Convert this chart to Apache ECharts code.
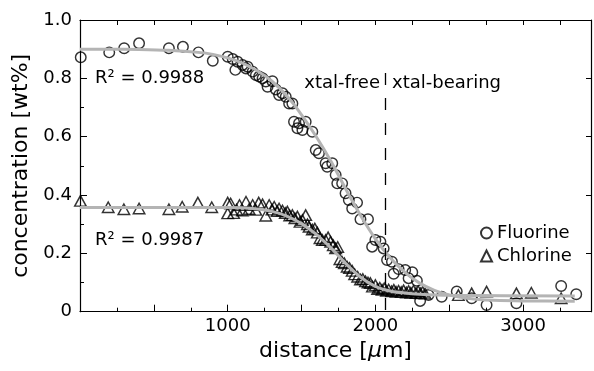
<!DOCTYPE html>
<html><head><meta charset="utf-8">
<script src="https://cdn.jsdelivr.net/npm/echarts@6/dist/echarts.min.js"></script>
<style>html,body{margin:0;padding:0;background:#fff}#c{width:594px;height:371px}</style>
</head><body><div id="c"></div>
<script>
// ---- data ----
const xMax = 3460;
const boundaryX = 2067;           // xtal-free / xtal-bearing boundary
const boundaryTop = 0.818;
const fluorinePoints = [
  [5,0.872],[198,0.889],[299,0.903],[400,0.920],[602,0.903],[697,0.908],[802,0.889],[899,0.860],[1000,0.874],
  [1034,0.866],[1052,0.829],[1067,0.857],[1101,0.846],[1124,0.834],[1135,0.840],[1169,0.823],[1191,0.811],[1213,0.806],[1236,0.800],
  [1258,0.789],[1270,0.771],[1303,0.790],[1326,0.762],[1348,0.743],[1371,0.749],[1393,0.737],[1416,0.714],[1438,0.714],[1449,0.651],
  [1472,0.629],[1483,0.646],[1506,0.623],[1528,0.651],[1573,0.617],[1596,0.554],[1618,0.543],[1663,0.509],[1674,0.497],[1708,0.509],
  [1731,0.469],[1742,0.440],[1775,0.440],[1798,0.406],[1820,0.383],[1843,0.354],[1876,0.374],[1899,0.317],[1950,0.317],[1978,0.223],
  [2000,0.246],[2034,0.240],[2056,0.217],[2079,0.177],[2112,0.171],[2124,0.130],[2157,0.146],[2202,0.143],[2225,0.115],[2250,0.135],
  [2281,0.106],[2303,0.037],[2360,0.057],[2449,0.051],[2551,0.069],[2652,0.046],[2753,0.023],[2955,0.029],[3258,0.088],[3360,0.060]
];
const chlorinePoints = [
  [3,0.380],[191,0.358],[297,0.351],[400,0.354],[602,0.351],[692,0.360],[798,0.374],[892,0.358],[1000,0.374],[1000,0.337],
  [1020,0.371],[1040,0.338],[1060,0.350],[1080,0.366],[1100,0.347],[1124,0.377],[1145,0.352],[1169,0.366],[1190,0.349],[1210,0.374],
  [1236,0.368],[1258,0.329],[1281,0.366],[1300,0.350],[1315,0.360],[1335,0.345],[1348,0.354],[1371,0.347],[1390,0.338],[1404,0.343],
  [1420,0.330],[1438,0.331],[1455,0.320],[1472,0.326],[1490,0.308],[1506,0.314],[1528,0.331],[1540,0.300],[1551,0.291],[1573,0.282],
  [1590,0.285],[1607,0.271],[1625,0.252],[1641,0.246],[1663,0.246],[1680,0.255],[1697,0.240],[1715,0.228],[1731,0.217],[1745,0.222],
  [1760,0.180],[1775,0.170],[1790,0.166],[1809,0.154],[1825,0.150],[1843,0.140],[1860,0.128],[1880,0.120],[1899,0.110],[1915,0.112],
  [1933,0.104],[1950,0.100],[1966,0.098],[1980,0.086],[2000,0.091],[2015,0.078],[2030,0.082],[2045,0.075],[2060,0.080],[2075,0.072],
  [2090,0.076],[2110,0.070],[2125,0.075],[2140,0.068],[2157,0.072],[2175,0.067],[2191,0.073],[2210,0.066],[2225,0.071],[2240,0.065],
  [2258,0.072],[2275,0.064],[2290,0.070],[2305,0.063],[2320,0.068],[2337,0.062],
  [2562,0.057],[2652,0.063],[2753,0.069],[2955,0.063],[3056,0.065],[3258,0.046]
];
const fluorineFit = [
  [0,0.900],[200,0.900],[400,0.899],[600,0.896],[800,0.889],[900,0.882],[1000,0.870],[1100,0.852],[1200,0.826],
  [1300,0.790],[1400,0.740],[1500,0.675],[1600,0.600],[1700,0.515],[1800,0.420],[1900,0.330],[2000,0.250],
  [2100,0.185],[2200,0.135],[2300,0.098],[2400,0.073],[2500,0.057],[2600,0.048],[2700,0.042],[2800,0.039],
  [3000,0.037],[3350,0.036]
];
const chlorineFit = [
  [0,0.357],[1000,0.357],[1100,0.356],[1200,0.352],[1300,0.344],[1400,0.328],[1500,0.302],[1600,0.265],
  [1700,0.218],[1800,0.165],[1900,0.118],[2000,0.087],[2100,0.071],[2200,0.064],[2300,0.060],[2500,0.056],[3350,0.054]
];
const seriesNames = ['Fluorine','Chlorine'];
const r2Labels = ['R\u00b2 = 0.9988','R\u00b2 = 0.9987'];
const zoneLabels = ['xtal-free','xtal-bearing'];

// ---- chart ----
const FONT = '"DejaVu Sans", sans-serif';
const BLACK = '#000';
const GREY = '#b4b4b4';
const chart = echarts.init(document.getElementById('c'), null, {renderer:'canvas'});
const markerStyle = {color:'rgba(0,0,0,0)', borderColor:BLACK, borderWidth:1.45};
const option = {
  animation:false,
  backgroundColor:'#fff',
  grid:{left:80, top:20, right:1, bottom:59.3, containLabel:false},
  xAxis:[{
    type:'value', min:0, max:xMax, interval:500, position:'bottom',
    axisLine:{show:true, onZero:false, lineStyle:{color:BLACK, width:1.2}},
    axisTick:{show:true, inside:true, length:7, lineStyle:{color:BLACK}},
    minorTick:{show:true, splitNumber:2, length:4, lineStyle:{color:BLACK}},
    axisLabel:{margin:6, fontSize:18, fontFamily:FONT, color:BLACK,
      formatter:v => (v>0 && v%1000===0) ? String(v) : ''},
    splitLine:{show:false}, minorSplitLine:{show:false},
    name:'distance [{i|\u03bc}m]', nameLocation:'middle', nameGap:26,
    nameTextStyle:{fontSize:22, fontFamily:FONT, color:BLACK,
      rich:{i:{fontSize:22, fontFamily:FONT, fontStyle:'italic', color:BLACK}}}
  },{
    type:'value', min:0, max:xMax, interval:250, position:'top',
    axisLine:{show:true, onZero:false, lineStyle:{color:BLACK, width:1.2}},
    axisTick:{show:true, inside:true, length:5, lineStyle:{color:BLACK}},
    axisLabel:{show:false}, splitLine:{show:false}
  }],
  yAxis:[{
    type:'value', min:0, max:1, interval:0.2, position:'left',
    axisLine:{show:true, onZero:false, lineStyle:{color:BLACK, width:1.2}},
    axisTick:{show:true, inside:true, length:7, lineStyle:{color:BLACK}},
    minorTick:{show:true, splitNumber:2, length:4, lineStyle:{color:BLACK}},
    axisLabel:{margin:8, fontSize:18, fontFamily:FONT, color:BLACK,
      formatter:v => v===0 ? '0' : v.toFixed(1)},
    splitLine:{show:false}, minorSplitLine:{show:false},
    name:'concentration [wt%]', nameLocation:'middle', nameGap:42,
    nameTextStyle:{fontSize:22, fontFamily:FONT, color:BLACK}
  },{
    type:'value', min:0, max:1, interval:0.2, position:'right',
    axisLine:{show:true, onZero:false, lineStyle:{color:BLACK, width:1.2}},
    axisTick:{show:true, inside:true, length:5, lineStyle:{color:BLACK}},
    axisLabel:{show:false}, splitLine:{show:false}
  }],
  legend:{
    orient:'vertical', left:475, top:218, itemWidth:11, itemHeight:11, itemGap:3,
    data:[{name:seriesNames[0], icon:'circle'},{name:seriesNames[1], icon:'triangle'}],
    textStyle:{fontSize:18, fontFamily:FONT, color:BLACK, lineHeight:20, padding:[0,0,0,0]}
  },
  series:[
    {name:seriesNames[0], type:'scatter', data:fluorinePoints, symbol:'circle', symbolSize:10.5,
      itemStyle:markerStyle, z:2, silent:true},
    {name:seriesNames[1], type:'scatter', data:chlorinePoints, symbol:'triangle', symbolSize:[11.5,10.5],
      itemStyle:markerStyle, z:2, silent:true},
    {name:'F fit', type:'line', data:fluorineFit, showSymbol:false, smooth:0.3,
      lineStyle:{color:GREY, width:3}, itemStyle:{color:GREY}, z:3, silent:true,
      markLine:{silent:true, symbol:['none','none'], label:{show:false},
        lineStyle:{color:BLACK, width:1.3, type:[12,13]},
        data:[[{coord:[boundaryX, boundaryTop]},{coord:[boundaryX, 0]}]]}},
    {name:'Cl fit', type:'line', data:chlorineFit, showSymbol:false, smooth:0.3,
      lineStyle:{color:GREY, width:3}, itemStyle:{color:GREY}, z:3, silent:true}
  ],
  graphic:[
    {type:'text', x:95, y:78, style:{text:r2Labels[0], font:'18px '+FONT, fill:BLACK, textAlign:'left', textVerticalAlign:'middle'}},
    {type:'text', x:95, y:240, style:{text:r2Labels[1], font:'18px '+FONT, fill:BLACK, textAlign:'left', textVerticalAlign:'middle'}},
    {type:'text', x:380, y:83, style:{text:zoneLabels[0], font:'18px '+FONT, fill:BLACK, textAlign:'right', textVerticalAlign:'middle'}},
    {type:'text', x:392, y:83, style:{text:zoneLabels[1], font:'18px '+FONT, fill:BLACK, textAlign:'left', textVerticalAlign:'middle'}}
  ]
};
chart.setOption(option);
</script>
</body></html>
